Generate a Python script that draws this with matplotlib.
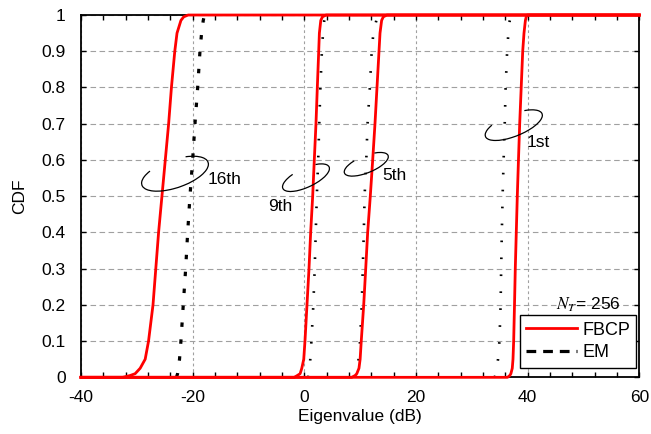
import numpy as np
import matplotlib.pyplot as plt
from matplotlib.patches import Arc
from matplotlib.lines import Line2D
from matplotlib.transforms import ScaledTranslation
from matplotlib.ticker import MultipleLocator

plt.rcParams['font.family'] = ['Liberation Sans', 'DejaVu Sans']
plt.rcParams['mathtext.fontset'] = 'stix'
plt.rcParams['axes.unicode_minus'] = False
plt.rcParams['lines.scale_dashes'] = False

# CDF levels shared by all curves, eigenvalue (dB)
cdf_levels = [0, 0.005, 0.01, 0.025, 0.05, 0.1, 0.2, 0.3, 0.4, 0.5,
              0.6, 0.7, 0.8, 0.9, 0.95, 0.985, 0.995, 1]

fbcp_16th = [-32.5, -31.2, -30.3, -29.4, -28.5, -27.9, -27.1, -26.6, -26.1,
             -25.5, -24.9, -24.3, -23.8, -23.2, -22.8, -22.1, -21.6, -20.8]
fbcp_9th = [-1.8, -1.25, -0.75, -0.45, -0.1, 0.12, 0.48, 0.84, 1.14,
            1.5, 1.79, 2.09, 2.33, 2.58, 2.7, 2.95, 3.25, 3.9]
fbcp_5th = [8.5, 9.1, 9.4, 9.79, 10.0, 10.2, 10.64, 11.0, 11.35,
            11.82, 12.25, 12.66, 13.02, 13.38, 13.56, 13.85, 14.15, 14.8]
fbcp_1st = [36.4, 36.8, 37.0, 37.25, 37.38, 37.5, 37.65, 37.79, 37.97,
            38.15, 38.36, 38.58, 38.85, 39.12, 39.35, 39.6, 39.75, 39.95]

em_16th = [-22.9, -22.8, -22.7, -22.55, -22.35, -22.1, -21.68, -21.25, -20.89,
           -20.48, -20.0, -19.58, -19.1, -18.69, -18.4, -18.1, -17.95, -17.8]
em_9th = [0.7, 0.8, 0.85, 0.95, 1.07, 1.27, 1.62, 1.86, 2.05,
          2.24, 2.49, 2.68, 2.88, 3.15, 3.35, 3.57, 3.7, 3.8]
em_5th = [9.3, 9.4, 9.45, 9.56, 9.72, 9.98, 10.29, 10.47, 10.66,
          10.8, 11.1, 11.33, 11.74, 12.07, 12.37, 12.9, 13.25, 13.4]
em_1st = [34.1, 34.2, 34.3, 34.46, 34.7, 34.95, 35.16, 35.26, 35.38,
          35.52, 35.7, 35.9, 36.06, 36.33, 36.55, 36.8, 36.97, 37.05]

fbcp_curves = [fbcp_16th, fbcp_9th, fbcp_5th, fbcp_1st]
em_curves = [em_16th, em_9th, em_5th, em_1st]

x_min, x_max = -40, 60
y_ticks = [0, 0.1, 0.2, 0.3, 0.4, 0.5, 0.6, 0.7, 0.8, 0.9, 1]
y_ticklabels = ["0", "0.1", "0.2", "0.3", "0.4", "0.5", "0.6", "0.7", "0.8", "0.9", "1"]

# eigenvalue index labels and their rings (center in data, size px, angle, arc start/end)
ring_labels = ["16th", "9th", "5th", "1st"]
ring_centers = [(-23.16, 0.562), (0.30, 0.551), (11.1, 0.588), (37.52, 0.696)]
ring_sizes = [(70, 28, 19), (51, 19, 25), (47, 17, 22), (61, 22, 22)]
ring_arcs = [(155, 399), (141, 389), (142, 392), (158, 392)]
label_pos = [(-17.25, 0.546), (-6.5, 0.471), (13.97, 0.556), (39.83, 0.648)]

red = "#FF0000"
fs = 12.5

fig = plt.figure(figsize=(6.51, 4.34), dpi=100)
ax = fig.add_axes([0.1244, 0.1306, 0.8576, 0.8348])

for xs in em_curves:
    if xs is em_16th:
        ax.plot(xs, cdf_levels, color="black", lw=2.3, linestyle=(0, (3.2, 9.0)), zorder=2)
    else:
        ax.plot(xs, cdf_levels, color="black", lw=1.9, linestyle=(0, (1.2, 11.0)), zorder=2)

for xs in fbcp_curves:
    X = [x_min] + xs + [x_max]
    Y = [0] + cdf_levels + [1]
    ax.plot(X, Y, color=red, lw=2.0, zorder=3, clip_on=False, solid_joinstyle="round")

for (cx, cy), (w, h, ang), (t1, t2) in zip(ring_centers, ring_sizes, ring_arcs):
    tr = fig.dpi_scale_trans + ScaledTranslation(cx, cy, ax.transData)
    ax.add_patch(Arc((0, 0), w / 100, h / 100, angle=ang, theta1=t1, theta2=t2,
                     transform=tr, color="black", lw=0.9, zorder=4))

for lab, (tx, ty) in zip(ring_labels, label_pos):
    ax.text(tx, ty, lab, fontsize=fs, ha="left", va="center", zorder=5)

ax.text(56.7, 0.199, "$N_T$= 256", fontsize=fs, ha="right", va="center", zorder=5)

ax.set_xlim(x_min, x_max)
ax.set_ylim(0, 1)
ax.xaxis.set_major_locator(MultipleLocator(20))
ax.xaxis.set_minor_locator(MultipleLocator(4))
ax.set_yticks(y_ticks)
ax.set_yticklabels(y_ticklabels)

ax.xaxis.grid(True, which="major", color="#a0a0a0", linestyle=(0, (2, 2)), lw=0.8)
ax.yaxis.grid(True, which="major", color="#a0a0a0", linestyle=(0, (4, 2.5)), lw=0.8)

ax.tick_params(axis="both", which="both", direction="in", top=True, right=True,
               length=3.5, width=1, labelsize=fs)
ax.tick_params(axis="x", pad=9)
ax.tick_params(axis="y", pad=11)
for s in ax.spines.values():
    s.set_linewidth(1.3)

ax.set_xlabel("Eigenvalue (dB)", fontsize=fs, labelpad=3)
ax.set_ylabel("CDF", fontsize=fs, labelpad=10)

handles = [Line2D([], [], color=red, lw=2.0),
           Line2D([], [], color="black", lw=2.3, linestyle=(0, (7, 5)))]
leg = ax.legend(handles, ["FBCP", "EM"], loc="lower right", bbox_to_anchor=(0.995, 0.027),
                borderaxespad=0, fontsize=fs + 0.5, frameon=True, fancybox=False,
                handlelength=2.8, handletextpad=0.3, labelspacing=0.3, borderpad=0.35)
leg.get_frame().set_edgecolor("black")
leg.get_frame().set_linewidth(1.0)
leg.get_frame().set_alpha(1)
leg.set_zorder(6)

plt.savefig("out.png", dpi=100)
plt.close()
